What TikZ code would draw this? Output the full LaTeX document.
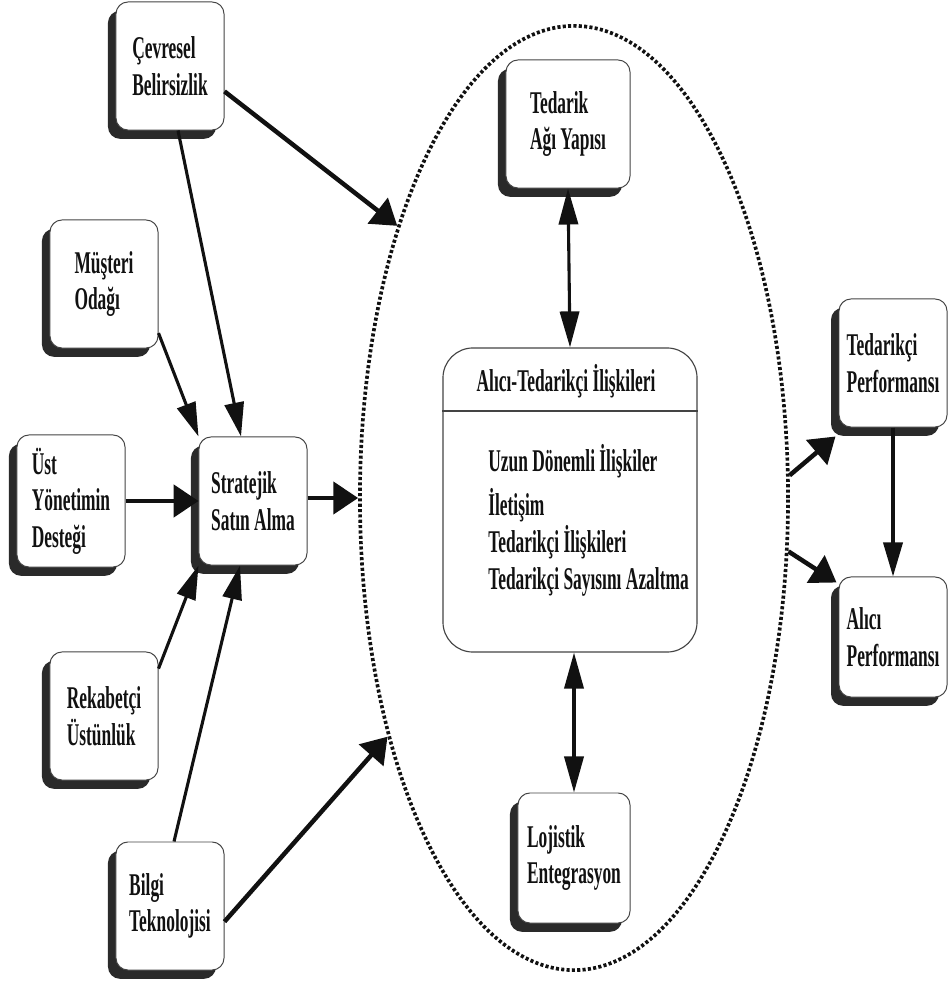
\documentclass[tikz,border=0pt]{standalone}
\usepackage{fontspec}
\setmainfont[FakeStretch=0.55]{Liberation Serif}
\usepackage{tikz}
\usetikzlibrary{arrows.meta,positioning,calc,shapes.geometric,shadows}
\definecolor{ink}{HTML}{111111}
\definecolor{edge}{HTML}{444444}
\definecolor{shade}{HTML}{2A2A2A}
\tikzset{
  every node/.style={font=\fontsize{22.5}{26}\selectfont\bfseries,text=ink},
  box/.style={draw=edge,line width=0.7pt,fill=white,rounded corners=0.3cm,align=left,inner sep=0pt,minimum width=2.7cm,minimum height=3.2cm,
    drop shadow={shadow xshift=-0.2cm,shadow yshift=-0.22cm,fill=shade,opacity=1}},
  hub/.style={draw=edge,line width=0.8pt,fill=white,rounded corners=0.75cm,minimum width=6.35cm,minimum height=7.6cm},
  zone/.style={ellipse,draw=ink,line width=2.6pt,dash pattern=on 2.2pt off 1.6pt,minimum width=10.7cm,minimum height=23.6cm,inner sep=0pt},
  thk/.style={-{Triangle[length=0.62cm,width=0.8cm]},line width=3.2pt,draw=ink},
  med/.style={-{Triangle[length=0.85cm,width=0.48cm]},line width=2.2pt,draw=ink},
  dbl/.style={{Triangle[length=0.9cm,width=0.48cm]}-{Triangle[length=0.9cm,width=0.48cm]},line width=2.2pt,draw=ink}
}

\begin{document}
\begin{tikzpicture}[x=0.025cm,y=-0.025cm]
  \useasboundingbox (0,0) rectangle (948,990);

  % dotted boundary round the relations
  \node[zone] (ell) at (574,498) {};

  % central block
  \node[hub] (rel) at (570,500) {};
  \coordinate (split) at (570,411);
  \draw[draw=edge,line width=0.8pt] (rel.west |- split) -- (rel.east |- split);
  \node (reltitle) at (566,381) {Alıcı-Tedarikçi İlişkileri};
  \node[anchor=north west,align=left,inner sep=0pt] (relbody) at (488,444)
    {Uzun Dönemli İlişkiler\\[0.2cm]İletişim\\Tedarikçi İlişkileri\\Tedarikçi Sayısını Azaltma};

  % factors
  \node[box] (cev) at (170,66) {Çevresel\\Belirsizlik};
  \node[box] (mus) at (104,284) {Müşteri\\Odağı};
  \node[box,minimum height=3.3cm] (ust) at (71,501) {Üst\\Yönetimin\\Desteği};
  \node[box] (str) at (253,501) {Stratejik\\Satın Alma};
  \node[box] (rek) at (104,716) {Rekabetçi\\Üstünlük};
  \node[box] (bil) at (170,906) {Bilgi\\Teknolojisi};
  \node[box,minimum width=3.1cm] (ted) at (568,124) {Tedarik\\Ağı Yapısı};
  \node[box,minimum width=2.8cm,minimum height=3.25cm] (loj) at (574,858) {Lojistik\\Entegrasyon};
  \node[box] (tp) at (893,363) {Tedarikçi\\Performansı};
  \node[box,minimum height=3.0cm] (ap) at (893,637) {Alıcı\\Performansı};

  % links
  \draw[thk] (cev.-25) -- (ell.123.6);
  \draw[med] ($(cev.south)+(8,0)$) -- ($(str.north)+(-12,0)$);
  \draw[med] (mus.-42) -- (str.north west);
  \draw[thk] (ust.east) -- (str.west);
  \draw[med] (rek.41) -- (str.south west);
  \draw[med] ($(bil.north)+(4,0)$) -- ($(str.south)+(-13,0)$);
  \draw[thk] (bil.-16) -- (ell.232.4);
  \draw[thk] (str.east |- ell.west) -- (ell.west);
  \draw[dbl] (ted.south) -- (rel.north);
  \draw[dbl] (rel.south -| loj.north) -- (loj.north);
  \draw[thk] (ell.6) -- ($(tp.south west)+(-3,9)$);
  \draw[thk] (ell.-14) -- ($(ap.north west)+(-2,6)$);
  \draw[med] (tp.south) -- (ap.north);
\end{tikzpicture}
\end{document}
